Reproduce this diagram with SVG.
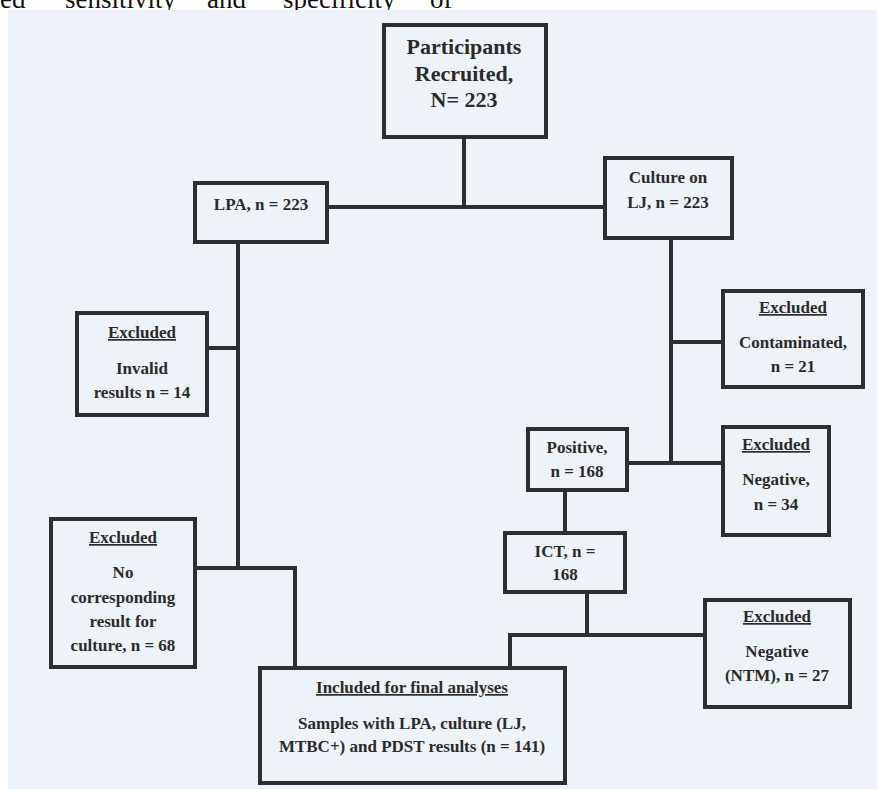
<svg xmlns="http://www.w3.org/2000/svg" width="877" height="789" viewBox="0 0 877 789">
<style>
.box{fill:none;stroke:#2e2e2e;stroke-width:4}
.ln{fill:none;stroke:#2e2e2e;stroke-width:4;stroke-linecap:square}
.t{font-family:"Liberation Serif","Times New Roman",serif;font-weight:bold;font-size:17px;fill:#2b2b2b;text-anchor:middle}
.big{font-size:22px}
.u{text-decoration:underline}
.page{font-family:"Liberation Serif","Times New Roman",serif;font-size:27px;fill:#111}
</style>
<rect x="0" y="0" width="877" height="789" fill="#ffffff"/>
<g id="page-text">
<text class="page" x="0" y="8">ed</text>
<text class="page" x="65" y="8">sensitivity</text>
<text class="page" x="207" y="8">and</text>
<text class="page" x="283" y="8">specificity</text>
<text class="page" x="430" y="8">of</text>
</g>
<rect x="8" y="10" width="869" height="779" fill="#eef2f9"/>

<g id="connectors">
<polyline class="ln" points="464,137 464,207"/>
<polyline class="ln" points="327,207 605,207"/>
<polyline class="ln" points="238,242 238,568 195,568"/>
<polyline class="ln" points="207,348 238,348"/>
<polyline class="ln" points="238,568 295,568 295,668"/>
<polyline class="ln" points="671,238 671,463"/>
<polyline class="ln" points="671,342 723,342"/>
<polyline class="ln" points="627,463 723,463"/>
<polyline class="ln" points="565,490 565,533"/>
<polyline class="ln" points="587,592 587,635"/>
<polyline class="ln" points="510,668 510,635 705,635"/>
</g>

<g id="participants">
<rect class="box" x="384" y="25" width="162" height="112"/>
<text class="t big" x="464" y="54">Participants</text>
<text class="t big" x="464" y="81">Recruited,</text>
<text class="t big" x="464" y="107">N= 223</text>
</g>

<g id="lpa">
<rect class="box" x="195" y="183" width="132" height="59"/>
<text class="t" x="261" y="210">LPA, n = 223</text>
</g>

<g id="culture">
<rect class="box" x="605" y="158" width="127" height="80"/>
<text class="t" x="668" y="183">Culture on</text>
<text class="t" x="668" y="208">LJ, n = 223</text>
</g>

<g id="excluded-invalid">
<rect class="box" x="77" y="313" width="130" height="102"/>
<text class="t u" x="142" y="338">Excluded</text>
<text class="t" x="142" y="374">Invalid</text>
<text class="t" x="142" y="398">results n = 14</text>
</g>

<g id="excluded-contaminated">
<rect class="box" x="723" y="291" width="140" height="96"/>
<text class="t u" x="793" y="313">Excluded</text>
<text class="t" x="793" y="348">Contaminated,</text>
<text class="t" x="793" y="372">n = 21</text>
</g>

<g id="positive">
<rect class="box" x="528" y="429" width="99" height="61"/>
<text class="t" x="577" y="453">Positive,</text>
<text class="t" x="577" y="477">n = 168</text>
</g>

<g id="excluded-negative">
<rect class="box" x="723" y="427" width="106" height="108"/>
<text class="t u" x="776" y="450">Excluded</text>
<text class="t" x="776" y="485">Negative,</text>
<text class="t" x="776" y="510">n = 34</text>
</g>

<g id="ict">
<rect class="box" x="505" y="533" width="120" height="59"/>
<text class="t" x="565" y="557">ICT, n =</text>
<text class="t" x="565" y="580">168</text>
</g>

<g id="excluded-nocorresponding">
<rect class="box" x="51" y="519" width="144" height="148"/>
<text class="t u" x="123" y="543">Excluded</text>
<text class="t" x="123" y="578">No</text>
<text class="t" x="123" y="603">corresponding</text>
<text class="t" x="123" y="627">result for</text>
<text class="t" x="123" y="651">culture, n = 68</text>
</g>

<g id="excluded-ntm">
<rect class="box" x="705" y="600" width="145" height="107"/>
<text class="t u" x="777" y="622">Excluded</text>
<text class="t" x="777" y="657">Negative</text>
<text class="t" x="777" y="681">(NTM), n = 27</text>
</g>

<g id="included">
<rect class="box" x="260" y="668" width="305" height="115"/>
<text class="t u" x="412" y="693">Included for final analyses</text>
<text class="t" x="412" y="729">Samples with LPA, culture (LJ,</text>
<text class="t" x="412" y="752">MTBC+) and PDST results (n = 141)</text>
</g>
</svg>
